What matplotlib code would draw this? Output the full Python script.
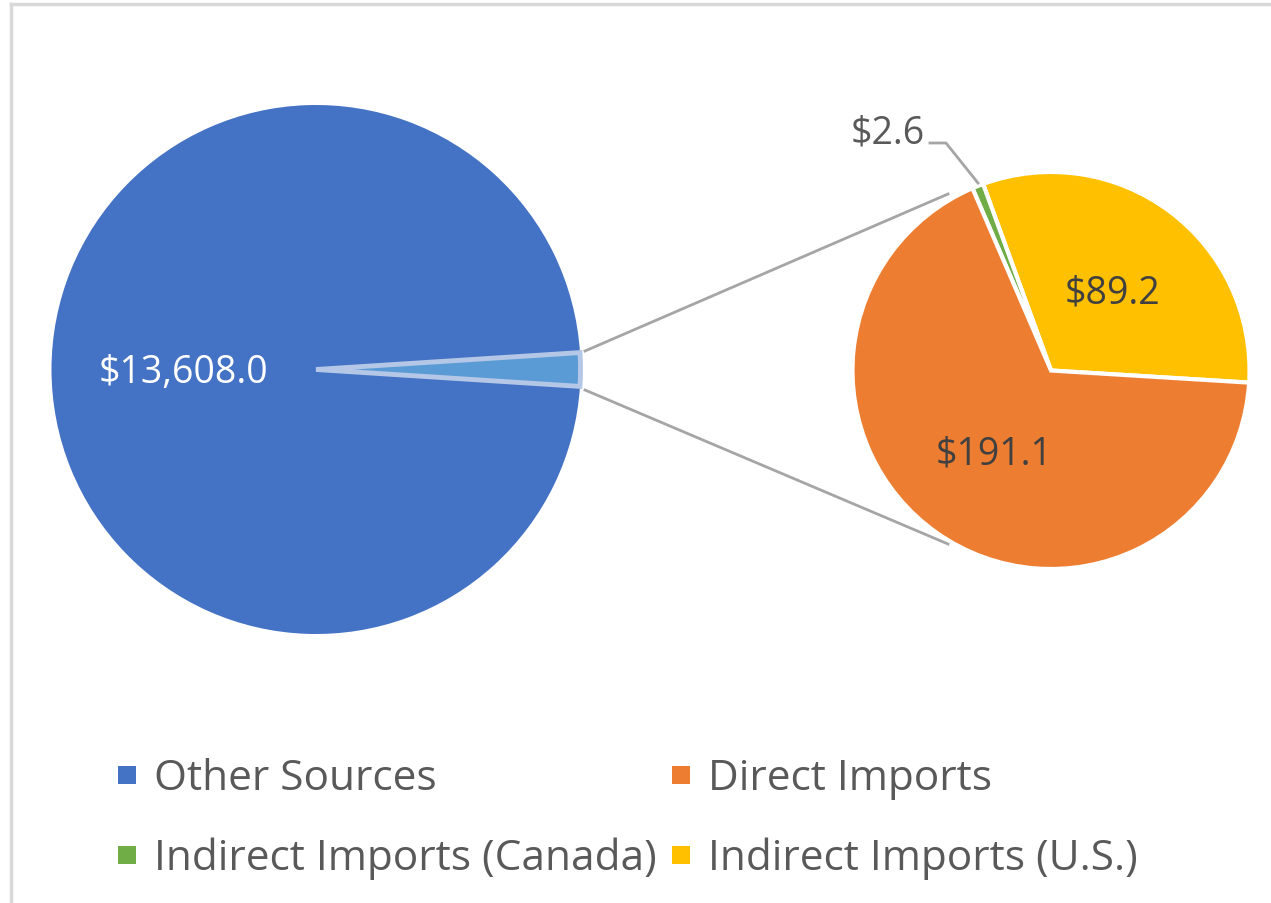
import matplotlib
matplotlib.use("Agg")
import matplotlib.pyplot as plt
from matplotlib.patches import Rectangle
from matplotlib.lines import Line2D

plt.rcParams['font.family'] = ['Open Sans', 'DejaVu Sans']

# Data
categories = ["Other Sources", "Direct Imports", "Indirect Imports (Canada)", "Indirect Imports (U.S.)"]
values = [13608.0, 191.1, 2.6, 89.2]
colors = ["#4472C4", "#ED7D31", "#70AD47", "#FFC000"]
labels = ["$13,608.0", "$191.1", "$2.6", "$89.2"]

W, H = 1271, 904
fig = plt.figure(figsize=(W / 100, H / 100), dpi=100)
ax = fig.add_axes([0, 0, 1, 1])

def Y(y):
    return H - y

# Left pie: Other sources + combined imports
other = values[0]
imports_total = sum(values[1:])
lc = (316, Y(370.5))
lr = 264.5
half = imports_total / (other + imports_total) * 180.0
wl, _ = ax.pie([imports_total, other], colors=["#5B9BD5", colors[0]],
               startangle=-half, counterclock=True, center=lc, radius=lr,
               frame=True,
               wedgeprops=dict(linewidth=0))
wl[0].set_edgecolor("#B4C7E7")
wl[0].set_linewidth(3.5)
wl[0].set_zorder(3)

# Right pie: breakdown of imports, order yellow, green, orange counterclockwise
rc = (1051, Y(371.5))
rr = 198.5
sub_vals = [values[3], values[2], values[1]]
sub_cols = [colors[3], colors[2], colors[1]]
wr, _ = ax.pie(sub_vals, colors=sub_cols, startangle=-3.5, counterclock=True,
               center=rc, radius=rr, explode=[0.025, 0, 0], frame=True,
               wedgeprops=dict(edgecolor="white", linewidth=3))

# Connector lines
ax.plot([585, 948], [Y(352), Y(195)], color="#A5A5A5", lw=2, zorder=1)
ax.plot([585, 948], [Y(391), Y(545)], color="#A5A5A5", lw=2, zorder=1)

# Data labels
ax.text(183, Y(373), labels[0], color="white", fontsize=27, ha="center", va="center")
ax.text(994, Y(455), labels[1], color="#404040", fontsize=27, ha="center", va="center")
ax.text(1112, Y(293), labels[3], color="#404040", fontsize=27, ha="center", va="center")
ax.text(888, Y(133), labels[2], color="#595959", fontsize=27, ha="center", va="center")
ax.plot([930, 946, 978], [Y(144), Y(144), Y(184)], color="#A5A5A5", lw=2, zorder=4)

# Legend (row-major, 2 columns)
col_x = [118, 672]
row_y = [776, 856]
for i, (cat, col) in enumerate(zip(categories, colors)):
    r, c = divmod(i, 2)
    x0 = col_x[c]
    y0 = row_y[r]
    ax.add_patch(Rectangle((x0, Y(y0) - 9), 18, 18, facecolor=col, edgecolor="none"))
    ax.text(x0 + 36, Y(y0 + 3), cat, color="#595959", fontsize=30.5, ha="left", va="center")

ax.set_xlim(0, W)
ax.set_ylim(0, H)
ax.set_aspect("equal")
ax.axis("off")

# Border
fig.add_artist(Line2D([11 / W, 1], [1 - 5 / H, 1 - 5 / H], color="#D9D9D9", lw=2.5))
fig.add_artist(Line2D([11 / W, 11 / W], [0, 1 - 5 / H], color="#D9D9D9", lw=2.5))

fig.savefig("out.png", dpi=100)
